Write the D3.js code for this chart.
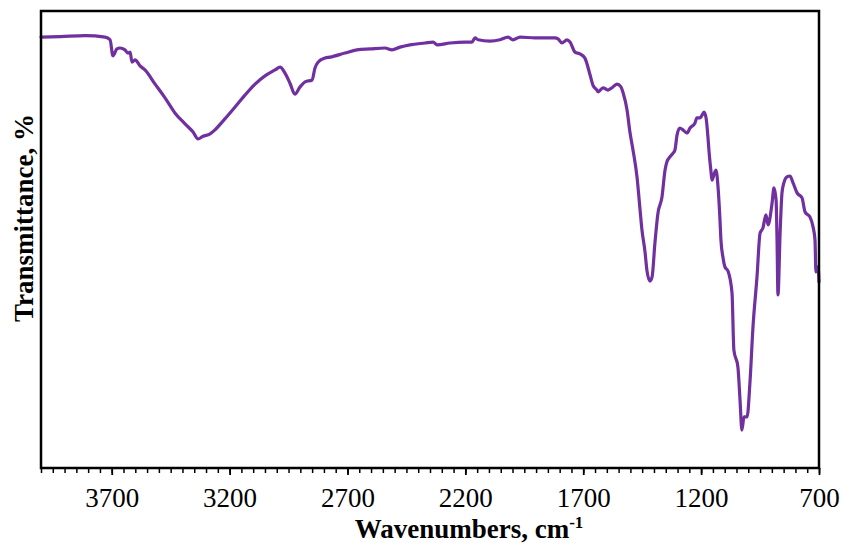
<!DOCTYPE html>
<html>
<head>
<meta charset="utf-8">
<script src="https://cdn.jsdelivr.net/npm/d3@7"></script>
<style>
  html, body { margin: 0; padding: 0; background: #fff; }
  svg { display: block; }
</style>
</head>
<body>
<svg id="chart" width="842" height="543"></svg>
<script>
// ---- data ----
const wavenumbers = [4000,3919,3813,3728,3707,3695,3678,3665,3644,3631,3622,3614,3601,3580,3559,3516,3474,3432,3389,3355,3334,3313,3283,3262,3220,3177,3135,3092,3050,3007,2986,2965,2944,2923,2901,2880,2850,2838,2825,2795,2774,2711,2660,2604,2541,2511,2477,2435,2371,2337,2320,2265,2202,2172,2159,2146,2096,2053,2019,1998,1968,1905,1820,1807,1790,1769,1756,1735,1714,1693,1671,1659,1642,1637,1616,1595,1578,1557,1540,1531,1514,1502,1489,1472,1459,1451,1438,1430,1417,1408,1396,1383,1366,1353,1345,1332,1319,1311,1302,1290,1277,1260,1247,1226,1218,1205,1196,1188,1179,1171,1167,1158,1154,1145,1137,1128,1120,1116,1107,1099,1086,1069,1061,1044,1035,1027,1018,1005,993,980,963,950,938,925,916,899,891,882,878,874,865,857,849,836,823,810,793,772,759,738,725,717,713,704,700];
const transmittance = [94.3,94.4,94.6,94.3,93.7,90.2,91.7,91.9,91.5,90.8,91.0,88.8,89.3,88.0,87.1,84.0,81.0,77.7,75.3,73.5,72.0,72.6,73.1,74.0,76.4,79.0,81.6,84.0,85.8,87.1,87.7,86.4,84.2,81.8,83.4,84.5,84.9,87.5,88.8,89.7,89.9,90.8,91.5,91.7,91.9,91.5,92.1,92.6,93.0,93.2,92.6,93.0,93.2,93.2,94.1,93.7,93.4,93.7,94.3,93.7,94.3,94.1,94.1,93.9,93.0,93.7,93.2,91.0,90.6,89.7,86.0,83.8,82.7,82.3,83.2,82.7,83.2,84.0,83.4,82.1,78.3,73.5,69.6,63.7,56.5,52.1,47.3,43.3,40.9,41.8,49.2,55.8,59.3,65.2,67.0,68.1,68.9,69.6,72.9,74.4,74.0,73.3,74.4,75.5,76.6,76.6,77.2,77.9,76.6,72.4,69.6,64.8,63.0,64.3,65.2,61.3,54.3,49.9,46.0,44.0,43.1,38.3,25.8,22.1,14.9,8.3,11.2,11.2,18.6,30.9,41.8,51.4,52.5,55.4,53.2,58.0,61.3,58.6,49.9,37.9,51.4,60.2,62.4,63.7,63.9,62.4,60.2,59.1,56.0,54.9,52.7,49.9,42.9,44.0,40.7];
const xTickLabels = [3700, 3200, 2700, 2200, 1700, 1200, 700];
const xMinorTicks = d3.range(4000, 699, -50);
const xTitle = "Wavenumbers, cm";
const xTitleSup = "-1";
const yTitle = "Transmittance, %";

// ---- layout ----
const svg = d3.select("#chart");
const plotL = 41, plotR = 819, plotT = 11, plotB = 468;
const x = d3.scaleLinear().domain([4000, 700]).range([plotL, plotR]);
const y = d3.scaleLinear().domain([0, 100]).range([plotB, plotT]);

const data = wavenumbers.map((w, i) => ({ w, t: transmittance[i] }));

// curve
svg.append("path")
  .datum(data)
  .attr("fill", "none")
  .attr("stroke", "#7030A0")
  .attr("stroke-width", 3.2)
  .attr("stroke-linejoin", "round")
  .attr("stroke-linecap", "round")
  .attr("d", d3.line().curve(d3.curveMonotoneX).x(d => x(d.w)).y(d => y(d.t)));

// frame
svg.append("rect")
  .attr("x", plotL).attr("y", plotT)
  .attr("width", plotR - plotL).attr("height", plotB - plotT)
  .attr("fill", "none").attr("stroke", "#000").attr("stroke-width", 2.5);

// minor ticks
const gx = svg.append("g").attr("transform", `translate(0,${plotB})`);
gx.call(d3.axisBottom(x).tickValues(xMinorTicks).tickSize(5).tickFormat(""))
  .call(g => g.select(".domain").remove())
  .call(g => g.selectAll("line").attr("stroke-width", 1.5));
// major ticks + labels
const gx2 = svg.append("g").attr("transform", `translate(0,${plotB})`);
gx2.call(d3.axisBottom(x).tickValues(xTickLabels).tickSize(7).tickPadding(13).tickFormat(d3.format("d")))
  .call(g => g.select(".domain").remove())
  .call(g => g.selectAll("line").attr("stroke-width", 1.8))
  .call(g => g.selectAll("text")
      .attr("font-family", "'Liberation Serif', 'Times New Roman', serif")
      .attr("font-size", 27).attr("fill", "#000"));

// x title
const xt = svg.append("text")
  .attr("x", 469).attr("y", 538)
  .attr("text-anchor", "middle")
  .attr("font-family", "'Liberation Serif', 'Times New Roman', serif")
  .attr("font-weight", "bold").attr("font-size", 27);
xt.append("tspan").text(xTitle);
xt.append("tspan").attr("font-size", 17).attr("dy", -10).text(xTitleSup);

// y title
svg.append("text")
  .attr("transform", "translate(33,218) rotate(-90)")
  .attr("text-anchor", "middle")
  .attr("font-family", "'Liberation Serif', 'Times New Roman', serif")
  .attr("font-weight", "bold").attr("font-size", 27)
  .text(yTitle);
</script>
</body>
</html>
